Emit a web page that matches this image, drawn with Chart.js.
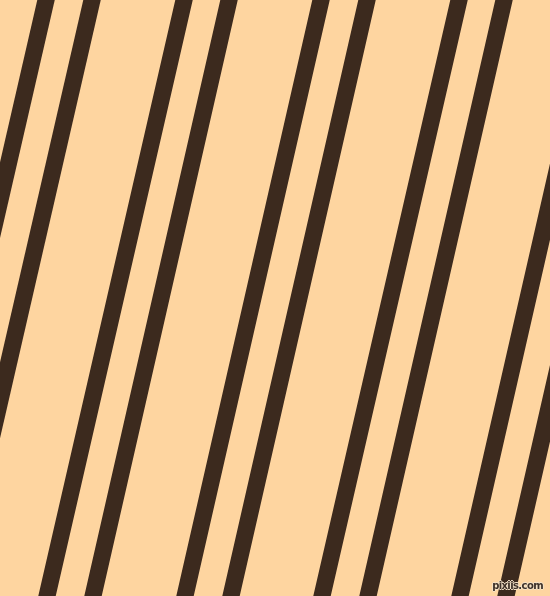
<!DOCTYPE html>
<html>
<head>
<meta charset="utf-8">
<script src="https://cdn.jsdelivr.net/npm/chart.js@4/dist/chart.umd.min.js"></script>
<style>
  html, body { margin: 0; padding: 0; background: #FED5A0; }
  #wrap { position: relative; width: 550px; height: 596px; overflow: hidden; }
  canvas { display: block; }
  #mark { position: absolute; right: 7px; bottom: 5px; font: bold 10px "DejaVu Sans", sans-serif;
          color: #3e3128;
          text-shadow: 1px 0 0 #f3e2c8, -1px 0 0 #f3e2c8, 0 1px 0 #f3e2c8, 0 -1px 0 #f3e2c8;
          letter-spacing: -0.6px; }
</style>
</head>
<body>
<div id="wrap">
  <canvas id="c" width="550" height="596"></canvas>
  <div id="mark">pixiis.com</div>
</div>
<script>
// Stripe positions where each stripe meets the top edge and the bottom edge
const stripeTopX    = [46, 92, 184, 229, 321, 367, 459, 504, 596, 642];
const stripeBottomX = [-91, -45, 47, 93, 185, 231, 322, 368, 460, 506];
const edgeY = [0, 596];
const stripeColor = '#3C2A1E';
const bgColor = '#FED5A0';

const datasets = stripeTopX.map((tx, i) => ({
  data: [{ x: tx, y: edgeY[0] }, { x: stripeBottomX[i], y: edgeY[1] }],
  showLine: true,
  borderColor: stripeColor,
  borderWidth: 17,
  borderCapStyle: 'square',
  pointRadius: 0,
  pointHoverRadius: 0,
  fill: false
}));

const bgPlugin = {
  id: 'bg',
  beforeDraw(chart) {
    const ctx = chart.ctx;
    ctx.save();
    ctx.fillStyle = bgColor;
    ctx.fillRect(0, 0, chart.width, chart.height);
    ctx.restore();
  }
};

new Chart(document.getElementById('c'), {
  type: 'scatter',
  data: { datasets },
  options: {
    responsive: false,
    animation: false,
    events: [],
    layout: { padding: 0 },
    plugins: { legend: { display: false }, tooltip: { enabled: false } },
    scales: {
      x: { type: 'linear', min: 0, max: 550, display: false },
      y: { type: 'linear', min: edgeY[0], max: edgeY[1], reverse: true, display: false }
    }
  },
  plugins: [bgPlugin]
});
</script>
</body>
</html>
